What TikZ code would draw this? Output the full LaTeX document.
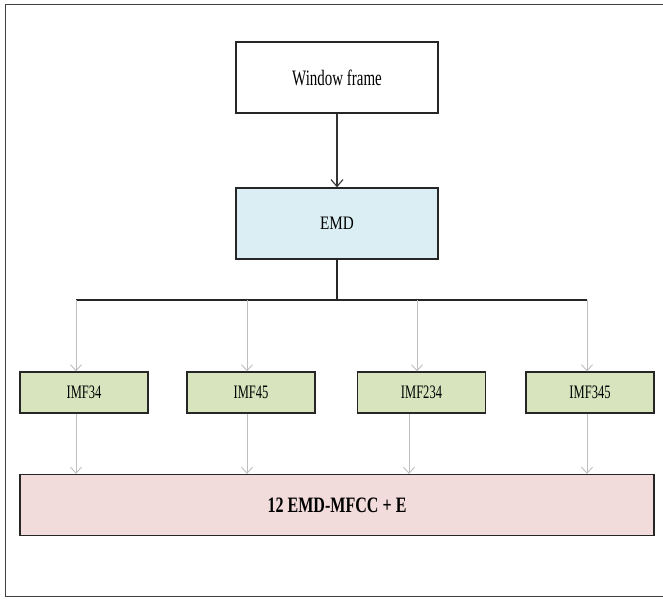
\documentclass[tikz,border=0pt]{standalone}
\usepackage{fontspec}
\usetikzlibrary{arrows.meta}
\newfontfamily\tnrA[FakeStretch=0.68]{Liberation Serif}
\newfontfamily\tnrB[FakeStretch=0.80]{Liberation Serif}
\newfontfamily\tnrC[FakeStretch=0.66]{Liberation Serif}
\newfontfamily\tnrD[FakeStretch=0.73]{Liberation Serif}
\definecolor{emdblue}{HTML}{DAEEF3}
\definecolor{imfgreen}{HTML}{D7E4BD}
\definecolor{outpink}{HTML}{F2DCDB}
\definecolor{connGrey}{HTML}{BFBFBF}
\definecolor{frameGrey}{HTML}{404040}
\tikzset{
  box/.style={draw=black!85, line width=1.3pt, inner sep=0pt},
  bigbox/.style={box, minimum width=202pt, minimum height=71pt},
  imfbox/.style={box, fill=imfgreen, minimum width=128pt, minimum height=41pt, font=\tnrC\fontsize{19}{23}\selectfont},
  outbox/.style={box, fill=outpink, minimum width=634pt, minimum height=61pt, font=\tnrD\bfseries\fontsize{22}{26}\selectfont},
  mainarrow/.style={draw=black!80, line width=1.2pt, -{Straight Barb[length=7pt,width=12pt,line width=1.1pt]}},
  greyarrow/.style={draw=connGrey, line width=1pt, -{Straight Barb[length=6pt,width=11pt,line width=0.9pt]}},
  busline/.style={draw=black!85, line width=1.3pt}
}
\begin{document}
\begin{tikzpicture}[x=1pt,y=-1pt]
\useasboundingbox (0,0) rectangle (663,599);
\begin{scope}
\clip (0,0) rectangle (663,599);
\draw[frameGrey, line width=1.6pt] (5.5,4.5) rectangle (690,596.5);
\end{scope}

\node[bigbox, fill=white, font=\tnrA\fontsize{22}{26}\selectfont] (win) at (337,77.5) {Window frame};
\node[bigbox, fill=emdblue, font=\tnrB\fontsize{19}{23}\selectfont] (emd) at (337,223.5) {EMD};
\node[imfbox] (imfa) at (84,392.5) {IMF34};
\node[imfbox] (imfb) at (251,392.5) {IMF45};
\node[imfbox] (imfc) at (421.5,392.5) {IMF234};
\node[imfbox] (imfd) at (590,392.5) {IMF345};
\node[outbox] (out) at (337,505) {12 EMD-MFCC + E};

\coordinate (bus) at (337,300);
\coordinate (ba) at (76,300);
\coordinate (bb) at (247,300);
\coordinate (bc) at (417,300);
\coordinate (bd) at (587,300);
\coordinate (la) at (76,413);
\coordinate (lb) at (247,413);
\coordinate (lc) at (409,413);
\coordinate (ld) at (587,413);

\draw[mainarrow] (win) -- (emd);
\draw[busline] (emd) -- (bus);
\draw[busline] (ba) -- (bd);

\draw[greyarrow] (ba) -- (ba |- imfa.north);
\draw[greyarrow] (bb) -- (bb |- imfb.north);
\draw[greyarrow] (bc) -- (bc |- imfc.north);
\draw[greyarrow] (bd) -- (bd |- imfd.north);

\draw[greyarrow] (la |- imfa.south) -- (la |- out.north);
\draw[greyarrow] (lb |- imfb.south) -- (lb |- out.north);
\draw[greyarrow] (lc |- imfc.south) -- (lc |- out.north);
\draw[greyarrow] (ld |- imfd.south) -- (ld |- out.north);
\end{tikzpicture}
\end{document}
